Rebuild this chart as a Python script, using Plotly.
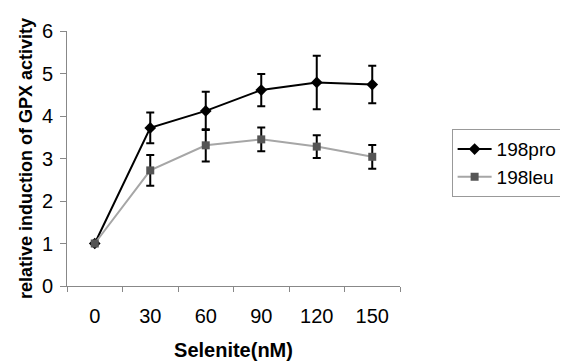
import plotly.graph_objects as go

categories = ["0", "30", "60", "90", "120", "150"]
pro_values = [1.0, 3.72, 4.12, 4.61, 4.79, 4.74]
pro_errors = [0.0, 0.36, 0.45, 0.38, 0.63, 0.44]
leu_values = [1.0, 2.72, 3.31, 3.45, 3.28, 3.04]
leu_errors = [0.0, 0.36, 0.38, 0.28, 0.27, 0.28]

fig = go.Figure()
fig.add_trace(go.Scatter(
    x=categories, y=pro_values, name="198pro", mode="lines+markers",
    line=dict(color="black", width=2),
    marker=dict(symbol="diamond", size=9, color="black"),
    error_y=dict(type="data", array=pro_errors, color="black", thickness=2, width=4),
))
fig.add_trace(go.Scatter(
    x=categories, y=leu_values, name="198leu", mode="lines+markers",
    line=dict(color="#a6a6a6", width=2),
    marker=dict(symbol="square", size=8, color="#555555"),
    error_y=dict(type="data", array=leu_errors, color="black", thickness=2, width=4),
))

# page body has an 8px default margin, so the figure is sized to 560x353
fig.update_layout(
    width=560, height=353,
    margin=dict(l=59, r=168, t=23, b=75, autoexpand=False),
    paper_bgcolor="white", plot_bgcolor="white",
    font=dict(family="Liberation Sans, Arial, sans-serif", color="black"),
    showlegend=True,
    legend=dict(x=1.155, y=0.615, xanchor="left", yanchor="top",
                bordercolor="#999999", borderwidth=1,
                font=dict(size=19), tracegroupgap=0, itemwidth=34),
)
fig.update_xaxes(
    type="category", range=[-0.5, 5.5], tickson="boundaries",
    showline=True, linecolor="#888888", linewidth=1,
    ticks="outside", ticklen=5, tickcolor="#888888",
    showgrid=False, zeroline=False, automargin=False,
    tickfont=dict(size=20), ticklabelstandoff=12,
    title=dict(text="<b>Selenite(nM)</b>", font=dict(size=20), standoff=22),
)
fig.update_yaxes(
    range=[0, 6], dtick=1,
    showline=True, linecolor="#888888", linewidth=1,
    ticks="outside", ticklen=6, tickcolor="#888888",
    showgrid=False, zeroline=False, automargin=False,
    tickfont=dict(size=20), ticklabelstandoff=3,
    title=dict(text="<b>relative induction of GPX activity</b>", font=dict(size=18), standoff=4),
)

fig.write_html("out.html")
